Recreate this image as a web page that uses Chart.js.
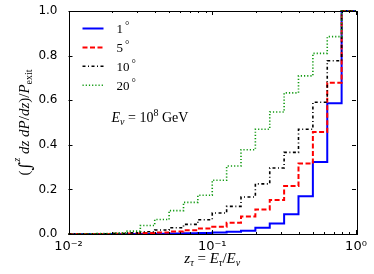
<!DOCTYPE html>
<html>
<head>
<meta charset="utf-8">
<script src="https://cdn.jsdelivr.net/npm/chart.js@4"></script>
<style>
  html, body { margin: 0; padding: 0; background: #fff; }
  #wrap { width: 374px; height: 274px; }
</style>
</head>
<body>
<div id="wrap"><canvas id="cumChart" width="374" height="274"></canvas></div>
<script>
// bin edges in z_tau (log spaced, 10 per decade)
const binEdges = [0.01, 0.0126, 0.0158, 0.02, 0.0251, 0.0316, 0.0398, 0.0501, 0.0631, 0.0794,
                  0.1, 0.1259, 0.1585, 0.1995, 0.2512, 0.3162, 0.3981, 0.5012, 0.631, 0.7943, 1.0];
const angleLabels = ['1°', '5°', '10°', '20°'];
// cumulative fraction in each bin
const cum1deg  = [0, 0, 0, 0, 0, 0, 0.001, 0.002, 0.003, 0.005,
                  0.007, 0.010, 0.015, 0.028, 0.047, 0.089, 0.169, 0.323, 0.586, 1.0];
const cum5deg  = [0, 0, 0, 0.001, 0.002, 0.004, 0.007, 0.011, 0.017, 0.025,
                  0.032, 0.051, 0.079, 0.110, 0.152, 0.215, 0.316, 0.457, 0.678, 1.0];
const cum10deg = [0, 0, 0.001, 0.002, 0.005, 0.010, 0.018, 0.028, 0.043, 0.064,
                  0.094, 0.124, 0.166, 0.225, 0.296, 0.366, 0.470, 0.591, 0.777, 1.0];
const cum20deg = [0, 0.001, 0.002, 0.005, 0.013, 0.038, 0.065, 0.105, 0.142, 0.174,
                  0.241, 0.305, 0.378, 0.470, 0.547, 0.633, 0.709, 0.810, 0.885, 1.0];
const xTicks = [0.01, 0.1, 1];
const xTickLabels = ['10⁻²', '10⁻¹', '10⁰'];
const yTicks = [0, 0.2, 0.4, 0.6, 0.8, 1.0];

(function() {
    'use strict';

    var RM = function(s) { return s + 'px "Liberation Serif"'; };
    var IT = function(s) { return 'italic ' + s + 'px "Liberation Serif"'; };

    function stepPoints(vals) {
        // one point per left edge, plus the closing right edge
        return binEdges.map(function(e, i) {
            return { x: e, y: i < vals.length ? vals[i] : vals[vals.length - 1] };
        });
    }

    var styles = [
        { color: '#0000ff', dash: [], width: 2 },
        { color: '#ff0000', dash: [5, 2.5], width: 2 },
        { color: '#000000', dash: [3, 2.5, 1, 2.5], width: 1.6 },
        { color: '#109910', dash: [1.2, 2], width: 1.6 }
    ];
    var series = [cum1deg, cum5deg, cum10deg, cum20deg];

    var datasets = series.map(function(vals, i) {
        return {
            label: angleLabels[i],
            data: stepPoints(vals),
            borderColor: styles[i].color,
            borderDash: styles[i].dash,
            borderWidth: styles[i].width,
            borderCapStyle: 'butt',
            stepped: 'before',
            pointRadius: 0,
            fill: false,
            clip: 3,
            order: series.length - i
        };
    });

    function drawRich(ctx, parts, x, y, align) {
        var w = 0;
        parts.forEach(function(p) { ctx.font = p.f; w += ctx.measureText(p.t).width; });
        var cx = align === 'center' ? x - w / 2 : x;
        parts.forEach(function(p) {
            ctx.font = p.f;
            ctx.fillText(p.t, cx, y + (p.dy || 0));
            cx += ctx.measureText(p.t).width;
        });
    }

    // frame, inward ticks on all sides, legend and math labels
    var decorPlugin = {
        id: 'decor',
        afterDraw: function(chart) {
            var ctx = chart.ctx;
            var a = chart.chartArea;
            var xs = chart.scales.x, ys = chart.scales.y;
            ctx.save();
            ctx.strokeStyle = '#000';
            ctx.lineWidth = 1;
            ctx.strokeRect(Math.round(a.left) + 0.5, Math.round(a.top) + 0.5,
                           Math.round(a.right - a.left), Math.round(a.bottom - a.top));

            ctx.beginPath();
            // x ticks: majors at decades, minors at 2..9
            xTicks.forEach(function(d, k) {
                var px = Math.round(xs.getPixelForValue(d)) + 0.5;
                ctx.moveTo(px, a.bottom); ctx.lineTo(px, a.bottom - 4);
                ctx.moveTo(px, a.top); ctx.lineTo(px, a.top + 4);
                if (k < xTicks.length - 1) {
                    for (var m = 2; m <= 9; m++) {
                        var mx = Math.round(xs.getPixelForValue(d * m)) + 0.5;
                        ctx.moveTo(mx, a.bottom); ctx.lineTo(mx, a.bottom - 2);
                        ctx.moveTo(mx, a.top); ctx.lineTo(mx, a.top + 2);
                    }
                }
            });
            yTicks.forEach(function(v) {
                var py = Math.round(ys.getPixelForValue(v)) + 0.5;
                ctx.moveTo(a.left, py); ctx.lineTo(a.left + 4, py);
                ctx.moveTo(a.right, py); ctx.lineTo(a.right - 4, py);
            });
            ctx.stroke();

            // legend, upper left inside the axes
            chart.data.datasets.forEach(function(ds, i) {
                var ly = a.top + 17.5 + i * 18.9;
                ctx.beginPath();
                ctx.strokeStyle = ds.borderColor;
                ctx.lineWidth = ds.borderWidth;
                ctx.setLineDash(ds.borderDash);
                ctx.moveTo(a.left + 14, ly);
                ctx.lineTo(a.left + 35, ly);
                ctx.stroke();
                ctx.setLineDash([]);
                ctx.fillStyle = '#000';
                ctx.font = RM(13);
                ctx.textBaseline = 'middle';
                ctx.textAlign = 'left';
                var num = ds.label.replace('°', '');
                ctx.fillText(num, a.left + 48, ly + 1);
                var nw = ctx.measureText(num).width;
                ctx.font = RM(11);
                ctx.fillText('°', a.left + 48 + nw + 2, ly - 2);
            });

            ctx.textBaseline = 'alphabetic';
            ctx.fillStyle = '#000';

            // E_nu annotation
            drawRich(ctx, [
                { t: 'E', f: IT(14) },
                { t: 'ν', f: IT(10), dy: 3 },
                { t: ' = 10', f: RM(14) },
                { t: '8', f: RM(10), dy: -6 },
                { t: ' GeV', f: RM(14) }
            ], a.left + 43, 122, 'left');

            // x axis title
            drawRich(ctx, [
                { t: 'z', f: IT(15) },
                { t: 'τ', f: IT(10), dy: 3 },
                { t: ' = ', f: RM(15) },
                { t: 'E', f: IT(15) },
                { t: 'τ', f: IT(10), dy: 3 },
                { t: '/', f: RM(15) },
                { t: 'E', f: IT(15) },
                { t: 'ν', f: IT(10), dy: 3 }
            ], (a.left + a.right) / 2, 263, 'center');

            // y axis title, rotated
            ctx.translate(29, (a.top + a.bottom) / 2);
            ctx.rotate(-Math.PI / 2);
            drawRich(ctx, [
                { t: '(', f: RM(15) },
                { t: '∫', f: '17px "DejaVu Serif"', dy: 2 },
                { t: 'z', f: IT(10), dy: -9 },
                { t: ' dz dP', f: IT(15) },
                { t: '/', f: RM(15) },
                { t: 'dz', f: IT(15) },
                { t: ')/', f: RM(15) },
                { t: 'P', f: IT(15) },
                { t: 'exit', f: RM(10), dy: 3 }
            ], 0, 0, 'center');
            ctx.restore();
        }
    };

    function initChart() {
        var el = document.getElementById('cumChart');
        if (!el || typeof Chart === 'undefined') {
            console.error('Chart.js or canvas missing');
            return;
        }
        new Chart(el, {
            type: 'line',
            data: { datasets: datasets },
            options: {
                responsive: false,
                animation: false,
                devicePixelRatio: 1,
                layout: { padding: { left: 0, right: 18, top: 11, bottom: 0 } },
                plugins: { legend: { display: false }, tooltip: { enabled: false } },
                scales: {
                    x: {
                        type: 'logarithmic',
                        min: 0.01,
                        max: 1,
                        grid: { display: false },
                        border: { display: false },
                        afterBuildTicks: function(s) {
                            s.ticks = xTicks.map(function(v) { return { value: v }; });
                        },
                        afterFit: function(s) { s.height = 40; },
                        ticks: {
                            autoSkip: false,
                            maxRotation: 0,
                            padding: -3,
                            color: '#000',
                            font: { family: 'DejaVu Sans', size: 13 },
                            callback: function(v) {
                                var k = xTicks.indexOf(v);
                                return k >= 0 ? xTickLabels[k] : '';
                            }
                        }
                    },
                    y: {
                        min: 0,
                        max: 1,
                        grid: { display: false },
                        border: { display: false },
                        afterFit: function(s) { s.width = 68.5; },
                        afterBuildTicks: function(s) {
                            s.ticks = yTicks.map(function(v) { return { value: v }; });
                        },
                        ticks: {
                            padding: 3,
                            color: '#000',
                            font: { family: 'DejaVu Sans', size: 12 },
                            callback: function(v) { return Number(v).toFixed(1); }
                        }
                    }
                }
            },
            plugins: [decorPlugin]
        });
    }

    if (document.readyState === 'loading') {
        document.addEventListener('DOMContentLoaded', initChart);
    } else {
        initChart();
    }
})();
</script>
</body>
</html>
